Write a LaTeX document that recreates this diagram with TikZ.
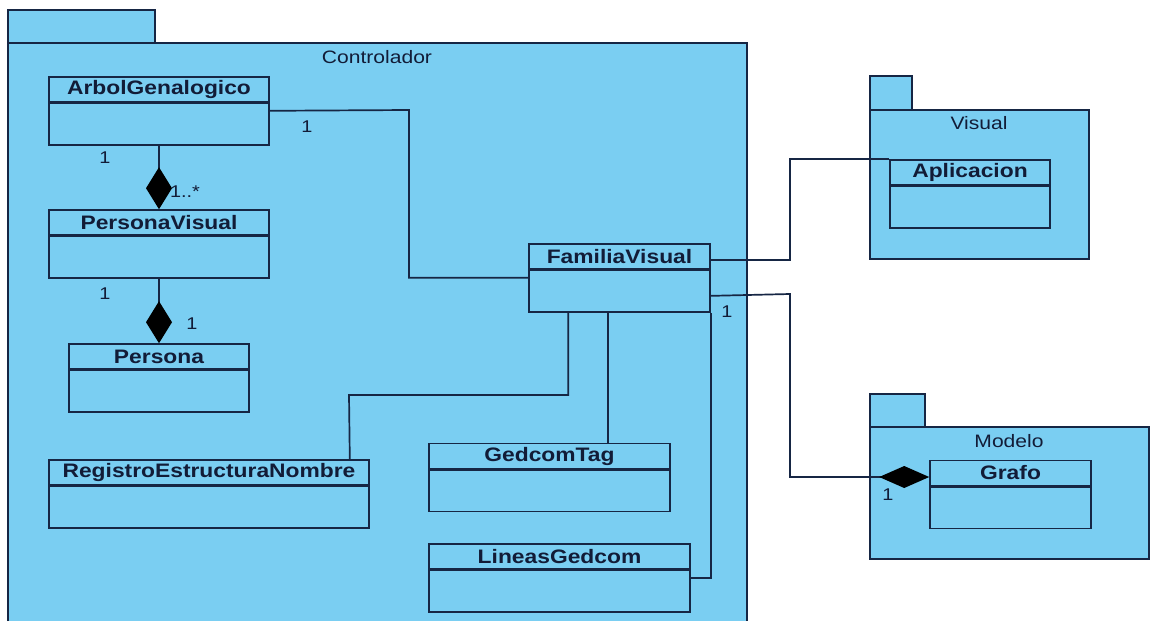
\documentclass[tikz,border=0pt]{standalone}
\usepackage{fontspec}
\setmainfont{Liberation Sans}
\newfontfamily\umlfont[FakeStretch=1.17]{Liberation Sans}
\usepackage{tikz}
\usetikzlibrary{positioning, arrows.meta}
\definecolor{pkgfill}{RGB}{122, 206, 242}
\definecolor{umlline}{RGB}{22, 38, 68}
\definecolor{umltext}{RGB}{18, 28, 55}

\tikzset{
  pkg/.style={fill=pkgfill, draw=umlline, line width=1.6pt},
  clshead/.style={draw=umlline, line width=1.6pt, minimum height=25pt, inner sep=0pt,
    font=\umlfont\fontsize{19.5}{20}\selectfont\bfseries, text=umltext},
  clsbody/.style={draw=umlline, line width=1.6pt, minimum height=41.5pt, inner sep=0pt},
  pkgname/.style={font=\umlfont\fontsize{18}{20}\selectfont, text=umltext, inner sep=0pt},
  mult/.style={font=\umlfont\fontsize{17}{20}\selectfont, text=umltext, inner sep=0pt},
  assoc/.style={draw=umlline, line width=1.7pt},
  comp/.style={assoc, -{Diamond[length=42pt, width=26pt, color=black]}}
}

\begin{document}
\begin{tikzpicture}[x=1pt, y=-1pt]
		\useasboundingbox (0,0) rectangle (1155,621);
		\fill[white] (0,0) rectangle (1155,621);

		% packages
		\draw[pkg] (8,10) rectangle (155,43);
		\fill[pkgfill] (8,43) rectangle (747,621);
		\draw[umlline, line width=1.6pt] (8,621) -- (8,43) -- (747,43) -- (747,621);
		\node[pkgname] (ctrl) at (377,57) {Controlador};

		\draw[pkg] (870,76) rectangle (912,110);
		\draw[pkg] (870,110) rectangle (1089,259);
		\node[pkgname] (vis) at (979,123) {Visual};

		\draw[pkg] (870,394) rectangle (925,427);
		\draw[pkg] (870,427) rectangle (1149,559);
		\node[pkgname] (mod) at (1009,441) {Modelo};

		% classes
		\node[clshead, minimum width=220pt] (arbol) at (159,89.5) {ArbolGenalogico};
		\node[clsbody, minimum width=220pt, below=0pt of arbol] (arbolb) {};

		\node[clshead, minimum width=220pt] (pvis) at (159,222.5) {PersonaVisual};
		\node[clsbody, minimum width=220pt, below=0pt of pvis] (pvisb) {};

		\node[clshead, minimum width=180pt] (pers) at (159,356.5) {Persona};
		\node[clsbody, minimum width=180pt, below=0pt of pers] (persb) {};

		\node[clshead, minimum width=181pt] (fam) at (619.5,256.5) {FamiliaVisual};
		\node[clsbody, minimum width=181pt, below=0pt of fam] (famb) {};

		\node[clshead, minimum width=320pt] (reg) at (209,472.5) {RegistroEstructuraNombre};
		\node[clsbody, minimum width=320pt, below=0pt of reg] (regb) {};

		\node[clshead, minimum width=241pt] (gedt) at (549.5,456) {GedcomTag};
		\node[clsbody, minimum width=241pt, below=0pt of gedt] (gedtb) {};

		\node[clshead, minimum width=261pt] (lin) at (559.5,556.5) {LineasGedcom};
		\node[clsbody, minimum width=261pt, below=0pt of lin] (linb) {};

		\node[clshead, minimum width=160pt] (apl) at (970,172.5) {Aplicacion};
		\node[clsbody, minimum width=160pt, below=0pt of apl] (aplb) {};

		\node[clshead, minimum width=161pt] (grafo) at (1010.5,473) {Grafo};
		\node[clsbody, minimum width=161pt, below=0pt of grafo] (grafob) {};

		% relations
		\draw[comp] (arbolb.south) -- (pvis.north);
		\draw[comp] (pvisb.south) -- (pers.north);
		\draw[assoc] ([yshift=-8pt]arbolb.north east) -- (409,110) |- ([yshift=-8pt]famb.north west);
		\draw[assoc] ([xshift=40pt]famb.south west) |- (349,395) -- ([xshift=-20pt]reg.north east);
		\draw[assoc] ([xshift=80pt]famb.south west) -- ([xshift=180pt]gedt.north west);
		\draw[assoc] (famb.south east) |- ([yshift=-8pt]linb.north east);
		\draw[assoc] ([yshift=-3.5pt]fam.east) -- (790,260) |- (apl.north west);
		\draw[assoc, -{Diamond[length=50pt, width=22pt, color=black]}] ([yshift=-4.5pt]famb.east) -- (790,294) |- ([yshift=-4pt]grafo.west);

		% multiplicities
		\node[mult] (m1) at (307,127) {1};
		\node[mult] (m2) at (105,158) {1};
		\node[mult] (m3) at (185,192) {1..*};
		\node[mult] (m4) at (105,294) {1};
		\node[mult] (m5) at (192,324) {1};
		\node[mult] (m6) at (727,312) {1};
		\node[mult] (m7) at (888,495) {1};
	\end{tikzpicture}
\end{document}
